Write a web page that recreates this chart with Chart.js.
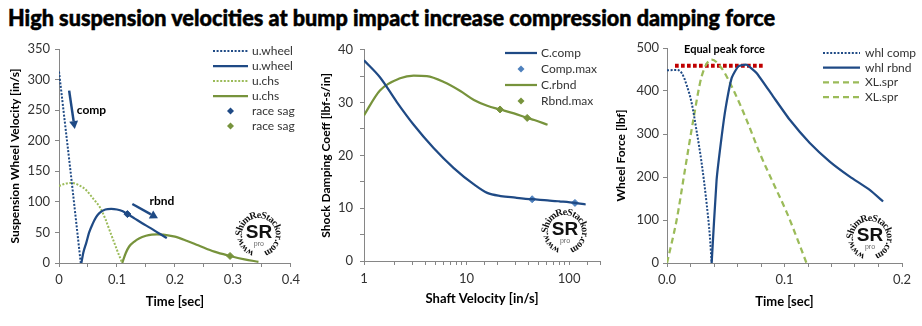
<!DOCTYPE html>
<html><head><meta charset="utf-8">
<script src="https://cdn.jsdelivr.net/npm/chart.js@4.4.1/dist/chart.umd.min.js"></script>
<style>
html,body{margin:0;padding:0;background:#fff;width:922px;height:326px;overflow:hidden;position:relative}
#title{position:absolute;left:8px;top:7px;font-family:Lato;font-weight:900;font-size:22px;line-height:22px;white-space:nowrap;transform-origin:0 0;color:#000;-webkit-text-stroke:0.5px #000}
canvas{position:absolute;top:35px}
</style></head><body>
<div id="title"><span id="tspan">High suspension velocities at bump impact increase compression damping force</span></div>
<canvas id="c1" width="305" height="291" style="left:0px"></canvas>
<canvas id="c2" width="310" height="291" style="left:305px"></canvas>
<canvas id="c3" width="310" height="291" style="left:612px"></canvas>
<script>
// ---------- Panel 1 data: suspension wheel velocity vs time ----------
const p1_compT   = [0, 0.01, 0.02, 0.03, 0.0375];
const p1_compV   = [313, 231, 149, 64, 0];
const p1_rbndT   = [0.0386, 0.042, 0.047, 0.052, 0.058, 0.064, 0.070, 0.080, 0.090, 0.100, 0.110, 0.118, 0.130, 0.1435, 0.158, 0.172, 0.186];
const p1_rbndV   = [0, 17, 33, 50, 64, 75, 82, 87.5, 88.5, 87.5, 84.5, 80, 73, 65, 57, 48.6, 41];
const p1_chsCT   = [0, 0.01, 0.0216, 0.035, 0.047, 0.06, 0.07, 0.08, 0.087, 0.095, 0.103, 0.109];
const p1_chsCV   = [126, 129.5, 131, 127, 119, 104, 92, 72, 54, 34, 14, 0];
const p1_chsRT   = [0.109, 0.115, 0.121, 0.13, 0.138, 0.15, 0.16, 0.169, 0.18, 0.2, 0.22, 0.24, 0.268, 0.295, 0.32, 0.344];
const p1_chsRV   = [0, 16, 27, 35, 40, 44.5, 46.5, 47, 46.5, 43, 36.5, 29, 18.5, 11.5, 6, 2];
const p1_sagBlue = [[0.118, 80]];
const p1_sagGreen= [[0.295, 11.5]];
const p1_xTicks  = ['0', '0.1', '0.2', '0.3', '0.4'];

// ---------- Panel 2 data: damping coefficient vs shaft velocity ----------
const p2_compV = [1.0, 1.43, 2.09, 3.05, 4.77, 7.5, 11.8, 15.9, 21.5, 30, 43.6, 61.6, 80, 114, 145];
const p2_compC = [38, 34.8, 30.1, 25.8, 21.4, 17.6, 14.5, 12.9, 12.3, 12.0, 11.7, 11.5, 11.3, 11.0, 10.7];
const p2_compMax = [[43.6, 11.7], [114, 11.0]];
const p2_rbndV = [1.0, 1.43, 2.25, 3.05, 4.1, 6.0, 8.7, 11.8, 15.9, 21.2, 29, 39, 45.7, 61.6];
const p2_rbndC = [27.6, 32.3, 34.6, 35.1, 35.0, 33.9, 32.2, 30.5, 29.4, 28.7, 27.95, 27.1, 26.7, 25.8];
const p2_rbndMax = [[21.2, 28.7], [39, 27.1]];
const p2_xLabels = [1, 10, 100];

// ---------- Panel 3 data: wheel force vs time ----------
const p3_compT = [0, 0.008, 0.0125, 0.0167, 0.021, 0.025, 0.0295, 0.0337, 0.0365, 0.038];
const p3_compF = [448, 449, 442, 414, 372, 310, 232, 139, 61, 0];
const p3_rbndT = [0.038, 0.0422, 0.0465, 0.050, 0.055, 0.0606, 0.0677, 0.0762, 0.0904, 0.1045, 0.1215, 0.1385, 0.1555, 0.1725, 0.1839];
const p3_rbndF = [0, 193, 294, 362, 430, 457, 461, 442, 387, 333, 279, 236, 201, 170, 143];
const p3_sprT  = [0, 0.0082, 0.0153, 0.0224, 0.0295, 0.038, 0.0465, 0.0564, 0.0677, 0.079, 0.0904, 0.1017, 0.1102, 0.1187];
const p3_sprF  = [0, 100, 217, 333, 434, 473, 453, 403, 333, 255, 186, 119, 61, 0];
const p3_peakT = [0.0068, 0.0833];
const p3_peakF = [459, 459];

// ---------- annotations (data coordinates) ----------
const p1_arrows = [
  {from: [0.0175, 282], to: [0.0272, 219]},
  {from: [0.1265, 96.5], to: [0.1707, 73]}
];
const p1_notes = [
  {text: 'comp', at: [0.0306, 250]},
  {text: 'rbnd', at: [0.156, 102]}
];
const p3_notes = [{text: 'Equal peak force', at: [0.0145, 497]}];

const BLUE = '#1F4A85', GREEN = '#77933C', LGREEN = '#9BBB59', LBLUE = '#4F81BD', RED = '#C00000';
const AX = '#868686', TXT = '#333333';
const FONT = 'Lato';

const zip = (xs, ys) => xs.map((x, i) => ({x, y: ys[i]}));
const pts = arr => arr.map(p => ({x: p[0], y: p[1]}));

function lineDS(label, data, color, dash, width, extra) {
  return Object.assign({label, data, borderColor: color, backgroundColor: color, borderDash: dash || [],
    borderWidth: width || 2, pointRadius: 0, showLine: true, fill: false,
    cubicInterpolationMode: 'monotone'}, extra || {});
}
function markDS(label, data, color) {
  return {label, data, borderColor: color, backgroundColor: color, showLine: false,
    pointStyle: 'rectRot', pointRadius: 3.5, pointHoverRadius: 3.5, borderWidth: 1};
}

// custom legend + notes + watermark
const overlay = {
  id: 'overlay',
  afterDatasetsDraw(chart, args, o) {
    const ctx = chart.ctx;
    const xs = chart.scales.x, ys = chart.scales.y;
    ctx.save();
    (o.arrows || []).forEach(a => {
      const x1 = xs.getPixelForValue(a.from[0]), y1 = ys.getPixelForValue(a.from[1]);
      const x2 = xs.getPixelForValue(a.to[0]), y2 = ys.getPixelForValue(a.to[1]);
      const ang = Math.atan2(y2 - y1, x2 - x1), hl = 8, hw = 4.5;
      const bx = x2 - hl * Math.cos(ang), by = y2 - hl * Math.sin(ang);
      ctx.strokeStyle = BLUE; ctx.fillStyle = BLUE; ctx.lineWidth = 2.5; ctx.setLineDash([]);
      ctx.beginPath(); ctx.moveTo(x1, y1); ctx.lineTo(bx, by); ctx.stroke();
      ctx.beginPath(); ctx.moveTo(x2, y2);
      ctx.lineTo(bx + hw * Math.sin(ang), by - hw * Math.cos(ang));
      ctx.lineTo(bx - hw * Math.sin(ang), by + hw * Math.cos(ang));
      ctx.closePath(); ctx.fill();
    });
    (o.notes || []).forEach(n => {
      ctx.fillStyle = '#000'; ctx.font = 'bold ' + (o.noteSize || 12) + 'px ' + FONT;
      ctx.textAlign = 'left'; ctx.textBaseline = 'middle';
      ctx.fillText(n.text, xs.getPixelForValue(n.at[0]), ys.getPixelForValue(n.at[1]));
    });
    const L = o.legend;
    if (L) {
      let y = L.y;
      chart.data.datasets.forEach(ds => {
        if (ds.inLegend === false) return;
        if (ds.showLine !== false) {
          ctx.strokeStyle = ds.borderColor; ctx.lineWidth = ds.borderWidth;
          ctx.setLineDash(ds.borderDash || []); ctx.lineCap = 'butt';
          ctx.beginPath(); ctx.moveTo(L.x, y); ctx.lineTo(L.x + L.len, y); ctx.stroke();
          ctx.setLineDash([]);
        } else {
          const cx = L.x + L.len / 2, r = 3.5;
          ctx.fillStyle = ds.backgroundColor;
          ctx.beginPath(); ctx.moveTo(cx, y - r); ctx.lineTo(cx + r, y); ctx.lineTo(cx, y + r); ctx.lineTo(cx - r, y); ctx.closePath(); ctx.fill();
        }
        ctx.fillStyle = TXT; ctx.font = '12px ' + FONT; ctx.textAlign = 'left'; ctx.textBaseline = 'middle';
        ctx.fillText(ds.label, L.x + L.len + L.gap, y);
        y += L.step;
      });
    }
    const W = o.wm;
    if (W) {
      const cx = chart.chartArea.right + W.dx, cy = chart.chartArea.bottom + W.dy;
      const txt = 'www.ShimReStackor.com';
      ctx.font = 'bold 10px "Liberation Serif"'; ctx.fillStyle = '#111';
      ctx.textAlign = 'center'; ctx.textBaseline = 'alphabetic';
      const r = 17;
      const chars = txt.split('');
      const widths = chars.map(ch => ctx.measureText(ch).width);
      const total = widths.reduce((a, b) => a + b, 0);
      const span = 2 * Math.PI - 0.6;
      let ang = Math.PI * 0.5 + 0.3;
      chars.forEach((ch, i) => {
        const w = widths[i] / total * span;
        const a = ang + w / 2;
        ctx.save();
        ctx.translate(cx + r * Math.cos(a), cy + r * Math.sin(a));
        ctx.rotate(a + Math.PI / 2);
        ctx.fillText(ch, 0, 0);
        ctx.restore();
        ang += w;
      });
      ctx.font = 'bold 19px "Liberation Sans"'; ctx.fillStyle = '#111';
      ctx.textBaseline = 'middle';
      ctx.fillText('SR', cx, cy - 2);
      ctx.font = '7px "Liberation Sans"'; ctx.fillStyle = '#666';
      ctx.fillText('pro', cx, cy + 9);
    }
    ctx.restore();
  }
};

function axisCommon(extra) {
  return Object.assign({
    border: {display: true, color: AX, width: 1},
    grid: {display: true, drawOnChartArea: false, drawTicks: true, tickLength: 4, color: AX}
  }, extra);
}

function makeChart(id, cfg) {
  return new Chart(document.getElementById(id), {
    type: 'scatter',
    data: {datasets: cfg.datasets},
    options: {
      responsive: false, animation: false, devicePixelRatio: 1,
      layout: {padding: cfg.padding},
      plugins: {legend: {display: false}, tooltip: {enabled: false}, overlay: cfg.overlay},
      elements: {line: {tension: 0.3}},
      scales: cfg.scales
    },
    plugins: [overlay]
  });
}

const tickFont = {family: FONT, size: 13};
const xTitleFont = {family: FONT, size: 13, weight: 'bold'};
const yTitleFont = {family: FONT, size: 12, weight: 'bold'};

// ---------- Panel 1 ----------
makeChart('c1', {
  padding: {top: 14, right: 11, left: 0, bottom: 0},
  datasets: [
    lineDS('u.wheel', zip(p1_compT, p1_compV), BLUE, [2, 1.6], 2),
    lineDS('u.wheel', zip(p1_rbndT, p1_rbndV), BLUE, [], 2.25),
    lineDS('u.chs', zip(p1_chsCT, p1_chsCV), LGREEN, [2, 1.6], 2),
    lineDS('u.chs', zip(p1_chsRT, p1_chsRV), GREEN, [], 2.25),
    markDS('race sag', pts(p1_sagBlue), BLUE),
    markDS('race sag', pts(p1_sagGreen), GREEN)
  ],
  overlay: {arrows: p1_arrows, notes: p1_notes, noteSize: 12,
    legend: {x: 213, y: 16, len: 35, gap: 4, step: 15}, wm: {dx: -32, dy: -28}},
  scales: {
    x: axisCommon({type: 'linear', min: 0, max: 0.4, afterFit: s => { s.height = 63; },
      ticks: {stepSize: 0.05, autoSkip: false, maxRotation: 0, padding: 5, color: TXT, font: tickFont,
        callback: v => { const k = Math.round(v * 20); return k % 2 === 0 ? p1_xTicks[k / 2] : ''; }},
      title: {display: true, text: 'Time [sec]', color: '#000', font: xTitleFont, padding: {top: 0, bottom: 16}}}),
    y: axisCommon({type: 'linear', min: 0, max: 350, afterFit: s => { s.width = 59; },
      ticks: {stepSize: 50, padding: 5, color: TXT, font: tickFont},
      title: {display: true, text: 'Suspension Wheel Velocity [in/s]', color: '#000', font: yTitleFont, padding: {top: 8, bottom: 0}}})
  }
});

// ---------- Panel 2 ----------
makeChart('c2', {
  padding: {top: 12, right: 15, left: 0, bottom: 0},
  datasets: [
    lineDS('C.comp', zip(p2_compV, p2_compC), BLUE, [], 2.25),
    markDS('Comp.max', pts(p2_compMax), LBLUE),
    lineDS('C.rbnd', zip(p2_rbndV, p2_rbndC), GREEN, [], 2.25),
    markDS('Rbnd.max', pts(p2_rbndMax), GREEN)
  ],
  overlay: {legend: {x: 200, y: 18, len: 32, gap: 4, step: 16}, wm: {dx: -35, dy: -29}},
  scales: {
    x: axisCommon({type: 'logarithmic', min: 1, max: 200, afterFit: s => { s.height = 65; },
      ticks: {autoSkip: false, maxRotation: 0, padding: 6, color: TXT, font: tickFont,
        callback: v => p2_xLabels.includes(Math.round(v * 1000) / 1000) ? String(v) : ''},
      title: {display: true, text: 'Shaft Velocity [in/s]', color: '#000', font: xTitleFont, padding: {top: 0, bottom: 19}}}),
    y: axisCommon({type: 'linear', min: 0, max: 40, afterFit: s => { s.width = 59; },
      ticks: {stepSize: 5, padding: 7, color: TXT, font: tickFont, callback: v => v % 10 === 0 ? String(v) : ''},
      title: {display: true, text: 'Shock Damping Coeff [lbf-s/in]', color: '#000', font: yTitleFont, padding: {top: 14, bottom: 0}}})
  }
});

// ---------- Panel 3 ----------
makeChart('c3', {
  padding: {top: 13, right: 20, left: 0, bottom: 0},
  datasets: [
    lineDS('whl comp', zip(p3_compT, p3_compF), BLUE, [2, 1.6], 2),
    lineDS('whl rbnd', zip(p3_rbndT, p3_rbndF), BLUE, [], 2.25, {cubicInterpolationMode: 'default', tension: 0.15}),
    lineDS('XL.spr', zip(p3_sprT, p3_sprF), LGREEN, [6, 4], 2.25),
    lineDS('XL.spr', [], LGREEN, [6, 4], 2.25),
    lineDS('peak', zip(p3_peakT, p3_peakF), RED, [3.7, 2.3], 4, {inLegend: false, tension: 0})
  ],
  overlay: {notes: p3_notes, noteSize: 11, legend: {x: 211, y: 18, len: 37, gap: 5, step: 14.7}, wm: {dx: -32, dy: -25}},
  scales: {
    x: axisCommon({type: 'linear', min: 0, max: 0.2, afterFit: s => { s.height = 63; },
      ticks: {stepSize: 0.02, autoSkip: false, maxRotation: 0, padding: 5, color: TXT, font: tickFont,
        callback: v => { const k = Math.round(v * 50); return k % 5 === 0 ? v.toFixed(1) : ''; }},
      title: {display: true, text: 'Time [sec]', color: '#000', font: xTitleFont, padding: {top: 0, bottom: 16}}}),
    y: axisCommon({type: 'linear', min: 0, max: 500, afterFit: s => { s.width = 55; },
      ticks: {stepSize: 100, padding: 4, color: TXT, font: tickFont},
      title: {display: true, text: 'Wheel Force [lbf]', color: '#000', font: yTitleFont, padding: {top: 2, bottom: 0}}})
  }
});

const sp = document.getElementById('tspan');
const tw = sp.getBoundingClientRect().width;
document.getElementById('title').style.transform = 'scaleX(' + (767 / tw) + ')';
</script>
</body></html>
